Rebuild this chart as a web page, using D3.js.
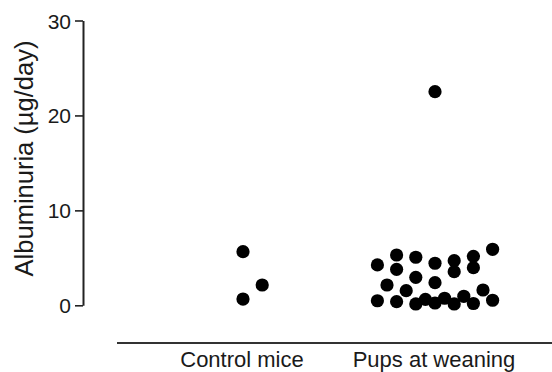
<!DOCTYPE html>
<html><head><meta charset="utf-8">
<script src="https://cdn.jsdelivr.net/npm/d3@7"></script>
<style>
html,body{margin:0;padding:0;background:#fff;}
svg text{font-family:"Liberation Sans",Arial,sans-serif;fill:#1a1a1a;}
</style></head>
<body><svg id="c" width="552" height="372"></svg>
<script>
const categories = ["Control mice", "Pups at weaning"];
const yTicks = [0, 10, 20, 30];
const yTitle = "Albuminuria (\u00b5g/day)";
// jitter column index and albuminuria value for each animal
const controlCols   = [0, 0, 2];
const controlValues = [5.65, 0.66, 2.14];
const pupsCols   = [-6, -6, -5, -4, -4, -4, -3, -2, -2, -2, -1, 0, 0, 0, 0, 1, 2, 2, 2, 3, 4, 4, 4, 5, 6, 6];
const pupsValues = [4.25, 0.48, 2.14, 5.3, 3.79, 0.38, 1.54, 5.06, 2.95, 0.14, 0.63, 4.43, 2.38, 0.24, 22.5, 0.74, 4.7, 3.54, 0.14, 0.95, 5.16, 3.96, 0.19, 1.61, 5.9, 0.53];

const points = [];
controlValues.forEach((v,i)=>points.push({cat:categories[0], col:controlCols[i], v}));
pupsValues.forEach((v,i)=>points.push({cat:categories[1], col:pupsCols[i], v}));

const svg = d3.select("#c");
const y = d3.scaleLinear().domain([0,30]).range([305.3, 20.5]);
const x = d3.scalePoint().domain(categories).range([243, 435]);
const jit = d3.scaleLinear().domain([0,1]).range([0, 9.6]);

// y axis
const ya = svg.append("g").attr("transform","translate(83,0)")
  .call(d3.axisLeft(y).tickValues(yTicks).tickSize(8).tickSizeOuter(0).tickPadding(4));
ya.select(".domain").attr("stroke","#222").attr("stroke-width",2);
ya.selectAll(".tick line").attr("stroke","#222").attr("stroke-width",1.6);
ya.selectAll(".tick text").style("font-size","21px").attr("fill","#1a1a1a").attr("dy","0.36em");

// y title
svg.append("text").attr("transform","translate(33,158.5) rotate(-90)")
  .attr("text-anchor","middle").style("font-size","25.5px").text(yTitle);

// x axis line
const xa = svg.append("g").attr("transform","translate(0,343)");
xa.append("line").attr("x1",117).attr("x2",552).attr("stroke","#333").attr("stroke-width",2);
xa.selectAll("text.cat").data(categories).join("text").attr("class","cat")
  .attr("x",d=>x(d)-1).attr("y",24).attr("text-anchor","middle")
  .style("font-size","22px").text(d=>d);

// dots
svg.append("g").selectAll("circle").data(points).join("circle")
  .attr("cx",d=>x(d.cat)+jit(d.col)).attr("cy",d=>y(d.v)).attr("r",6.6).attr("fill","#000");
</script></body></html>
